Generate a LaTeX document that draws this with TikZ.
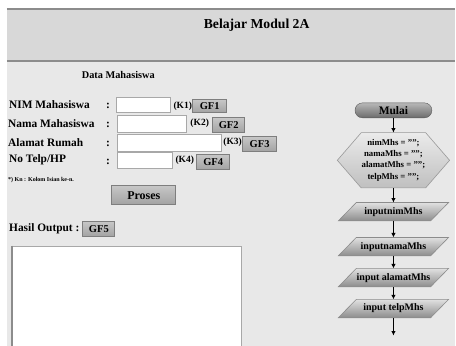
\documentclass[tikz,border=0pt]{standalone}
\usepackage{fontspec}
\setmainfont{Liberation Serif}
\usetikzlibrary{arrows.meta,calc}
\definecolor{hdr}{HTML}{D8D8D8}
\definecolor{bodyc}{HTML}{E8E8E8}
\definecolor{rulec}{HTML}{8C8C8C}
\definecolor{boxline}{HTML}{A8A8A8}
\definecolor{btnline}{HTML}{7E7E7E}
\definecolor{btntop}{HTML}{C6C6C6}
\definecolor{btnbot}{HTML}{A2A2A2}
\pgfdeclarelayer{bg}
\pgfdeclarelayer{shp}
\pgfsetlayers{bg,shp,main}
\tikzset{
  lbl/.style={anchor=west, inner sep=0, font=\fontsize{11.4}{13}\selectfont\bfseries},
  tbox/.style={draw=boxline, fill=white, inner sep=0, line width=0.8},
  kl/.style={inner sep=0, font=\fontsize{9.5}{11}\selectfont\bfseries},
  gbtn/.style={draw=btnline, top color=btntop, bottom color=btnbot, inner sep=0, line width=0.8,
               font=\fontsize{10.5}{12}\selectfont\bfseries},
  term/.style={draw=black!65, top color=black!28, bottom color=black!58, rounded corners=7.5,
               minimum width=77, minimum height=15, inner sep=0, font=\fontsize{11.5}{13}\selectfont\bfseries},
  fbox/.style={inner sep=0, minimum width=110, minimum height=18, font=\fontsize{10}{12}\selectfont\bfseries},
  pshape/.style={draw=black!45, line width=0.6, top color=black!12, bottom color=black!45},
  hexshape/.style={draw=black!40, line width=0.6, top color=black!8, bottom color=black!25},
  arr/.style={line width=1.5, -{Latex[length=4.5,width=4.5]}}
}
\begin{document}
\begin{tikzpicture}[x=1pt,y=-1pt]
\begin{pgfonlayer}{bg}
  \fill[white] (0,0) rectangle (456,346);
  \fill[hdr] (7,9) rectangle (456,61);
  \fill[bodyc] (7,61) rectangle (456,346);
  \draw[rulec, line width=1.3] (7,9) -- (456,9);
  \draw[rulec, line width=1.3] (7,61) -- (456,61);
\end{pgfonlayer}
\useasboundingbox (0,0) rectangle (456,346);

\node[inner sep=0, font=\fontsize{13.7}{16}\selectfont\bfseries] (title) at (257,25) {Belajar Modul 2A};
\node[inner sep=0, font=\fontsize{10.3}{12}\selectfont\bfseries] (dm) at (118.5,75) {Data Mahasiswa};

\node[lbl] (l1) at (9,105) {NIM Mahasiswa};
\node[lbl] (l2) at (8,124) {Nama Mahasiswa};
\node[lbl] (l3) at (8,143) {Alamat Rumah};
\node[lbl] (l4) at (9,160) {No Telp/HP};
\node[lbl] (c1) at (106,106) {:};
\node[lbl] (c2) at (106,125) {:};
\node[lbl] (c3) at (106,144) {:};
\node[lbl] (c4) at (106,162) {:};

\node[tbox, minimum width=54, minimum height=15] (t1) at (144,105.5) {};
\node[tbox, minimum width=69, minimum height=17] (t2) at (152.5,124.5) {};
\node[tbox, minimum width=104, minimum height=17] (t3) at (170,143.5) {};
\node[tbox, minimum width=55, minimum height=16] (t4) at (145.5,161) {};

\node[kl] (k1) at (183,106) {(K1)};
\node[kl] (k2) at (200,123.5) {(K2)};
\node[kl] (k3) at (233,142.5) {(K3)};
\node[kl] (k4) at (185,160.5) {(K4)};

\node[gbtn, minimum width=34, minimum height=13] (gf1) at (210,106.5) {GF1};
\node[gbtn, minimum width=32, minimum height=15] (gf2) at (229,125.5) {GF2};
\node[gbtn, minimum width=34, minimum height=15] (gf3) at (260,144.5) {GF3};
\node[gbtn, minimum width=33, minimum height=15] (gf4) at (213.5,162.5) {GF4};

\node[anchor=west, inner sep=0, font=\fontsize{6}{7}\selectfont\bfseries] (note) at (8,180) {*) Kn : Kolom Isian ke-n.};

\node[gbtn, minimum width=64, minimum height=19, font=\fontsize{12}{14}\selectfont\bfseries] (proses) at (144,195.5) {Proses};

\node[lbl] (hasil) at (9,229) {Hasil Output :};
\node[gbtn, minimum width=32, minimum height=15] (gf5) at (99,229.5) {GF5};

\node[draw=boxline, fill=white, line width=0.8, inner sep=0, anchor=north west,
      minimum width=229, minimum height=110] (out) at (12,246) {};
\draw[black!45, line width=1.5] (out.north west) -- (out.south west);

% flowchart
\node[term] (mulai) at (394,110.5) {Mulai};
\node[inner sep=0, minimum width=112, minimum height=55, align=center,
      font=\fontsize{8.8}{11.2}\selectfont\bfseries] (hex) at (394,160.5)
      {nimMhs = "";\\namaMhs = "";\\alamatMhs = "";\\telpMhs = "";};
\node[fbox] (p1) at (394,212) {inputnimMhs};
\node[fbox] (p2) at (394,247) {inputnamaMhs};
\node[fbox] (p3) at (394,278) {input alamatMhs};
\node[fbox] (p4) at (394,309) {input telpMhs};
\coordinate (fend) at (394,336);

\begin{pgfonlayer}{shp}
  \draw[hexshape] (hex.west) -- ($(hex.north west)+(24,0)$) -- ($(hex.north east)+(-24,0)$)
     -- (hex.east) -- ($(hex.south east)+(-24,0)$) -- ($(hex.south west)+(24,0)$) -- cycle;
  \foreach \p in {p1,p2,p3,p4}{
    \draw[pshape] (\p.south west) -- ($(\p.north west)+(18,0)$) -- (\p.north east)
       -- ($(\p.south east)+(-18,0)$) -- cycle;
  }
\end{pgfonlayer}

\draw[arr] (mulai.south) -- (hex.north);
\draw[arr] (hex.south) -- (p1.north);
\draw[arr] (p1.south) -- (p2.north);
\draw[arr] (p2.south) -- (p3.north);
\draw[arr] (p3.south) -- (p4.north);
\draw[arr] (p4.south) -- (fend);
\end{tikzpicture}
\end{document}
